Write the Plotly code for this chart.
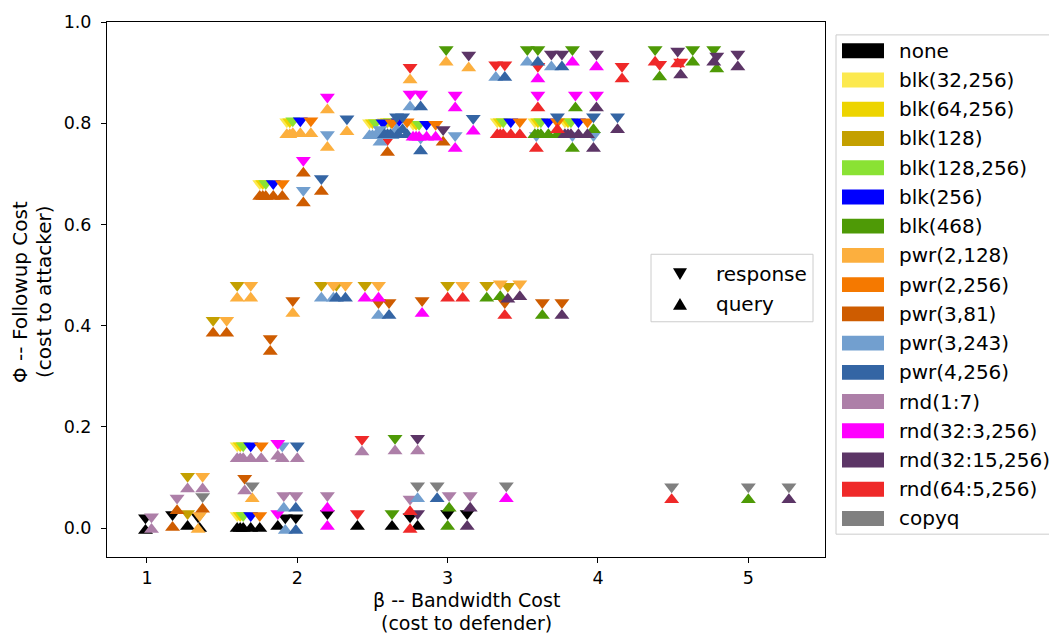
import plotly.graph_objects as go

# ---------------- schemes (legend order) and colours ----------------
SCHEMES = ["none", "blk(32,256)", "blk(64,256)", "blk(128)", "blk(128,256)", "blk(256)",
           "blk(468)", "pwr(2,128)", "pwr(2,256)", "pwr(3,81)", "pwr(3,243)", "pwr(4,256)",
           "rnd(1:7)", "rnd(32:3,256)", "rnd(32:15,256)", "rnd(64:5,256)", "copyq"]
COLORS = ["#000000", "#fce94f", "#edd400", "#c4a000", "#8ae234", "#0000ff",
          "#4e9a06", "#fcaf3e", "#f57900", "#ce5c00", "#729fcf", "#3465a4",
          "#ad7fa8", "#ff00ff", "#5c3566", "#ef2929", "#808080"]

# ---------------- data: (beta, phi, response scheme) grouped by query scheme ----------------
Q_PWR2_128 = [(1.93, 0.790, "blk(32,256)"), (1.95, 0.790, "blk(64,256)"), (1.97, 0.792, "blk(128,256)"),
              (2.02, 0.792, "blk(256)"), (2.09, 0.792, "pwr(2,256)"), (2.20, 0.765, "pwr(3,243)"),
              (2.33, 0.796, "pwr(4,256)"), (2.20, 0.839, "rnd(32:3,256)"), (2.75, 0.898, "rnd(64:5,256)"),
              (2.99, 0.933, "blk(468)"), (3.14, 0.922, "rnd(32:15,256)"), (1.60, 0.467, "blk(128)"),
              (1.69, 0.467, "pwr(2,128)"), (1.97, 0.437, "pwr(3,81)"), (1.70, 0.071, "copyq"),
              (1.34, 0.010, "none")]
Q_PWR3_81 = [(1.75, 0.668, "blk(32,256)"), (1.77, 0.668, "blk(64,256)"), (1.79, 0.668, "blk(128,256)"),
             (1.84, 0.668, "blk(256)"), (1.90, 0.668, "pwr(2,256)"), (2.04, 0.714, "rnd(32:3,256)"),
             (2.04, 0.655, "pwr(3,243)"), (2.16, 0.678, "pwr(4,256)"), (2.60, 0.755, "rnd(64:5,256)"),
             (2.97, 0.775, "rnd(32:15,256)"), (1.44, 0.398, "blk(128)"), (1.53, 0.398, "pwr(2,128)"),
             (1.82, 0.362, "pwr(3,81)"), (1.20, 0.047, "rnd(1:7)"), (1.37, 0.050, "copyq"),
             (1.17, 0.014, "none")]
Q_PWR3_243 = [(2.48, 0.788, "blk(32,256)"), (2.50, 0.788, "blk(64,256)"), (2.52, 0.788, "blk(128,256)"),
              (2.57, 0.788, "blk(256)"), (2.63, 0.788, "pwr(2,256)"), (2.55, 0.775, "pwr(3,243)"),
              (2.66, 0.800, "pwr(4,256)"), (2.75, 0.845, "rnd(32:3,256)"), (3.32, 0.903, "rnd(64:5,256)"),
              (3.53, 0.933, "blk(468)"), (3.69, 0.924, "rnd(32:15,256)"), (2.16, 0.467, "blk(128)"),
              (2.24, 0.467, "pwr(2,128)"), (2.54, 0.433, "pwr(3,81)"), (1.91, 0.052, "rnd(1:7)"),
              (2.80, 0.071, "copyq"), (1.92, 0.008, "none")]
Q_PWR4_256 = [(2.58, 0.790, "blk(32,256)"), (2.60, 0.790, "blk(64,256)"), (2.62, 0.790, "blk(128,256)"),
              (2.67, 0.790, "blk(256)"), (2.73, 0.790, "pwr(2,256)"), (2.82, 0.758, "pwr(3,243)"),
              (2.70, 0.800, "pwr(4,256)"), (2.82, 0.845, "rnd(32:3,256)"), (3.38, 0.903, "rnd(64:5,256)"),
              (3.60, 0.933, "blk(468)"), (3.76, 0.924, "rnd(32:15,256)"), (2.26, 0.467, "blk(128)"),
              (2.32, 0.467, "pwr(2,128)"), (2.61, 0.433, "pwr(3,81)"), (1.99, 0.052, "rnd(1:7)"),
              (2.93, 0.071, "copyq"), (1.99, 0.008, "none")]
Q_RND32_3 = [(2.77, 0.785, "blk(32,256)"), (2.79, 0.785, "blk(64,256)"), (2.81, 0.785, "blk(128,256)"),
             (2.86, 0.785, "blk(256)"), (2.92, 0.785, "pwr(2,256)"), (3.05, 0.763, "pwr(3,243)"),
             (3.17, 0.797, "pwr(4,256)"), (3.05, 0.843, "rnd(32:3,256)"), (3.60, 0.900, "rnd(64:5,256)"),
             (3.83, 0.933, "blk(468)"), (3.99, 0.924, "rnd(32:15,256)"), (2.45, 0.467, "blk(128)"),
             (2.54, 0.467, "pwr(2,128)"), (2.83, 0.437, "pwr(3,81)"), (2.20, 0.052, "rnd(1:7)"),
             (3.39, 0.071, "copyq"), (2.20, 0.016, "none")]
Q_RND64_5 = [(3.33, 0.790, "blk(32,256)"), (3.35, 0.790, "blk(64,256)"), (3.37, 0.790, "blk(128,256)"),
             (3.42, 0.790, "blk(256)"), (3.48, 0.790, "pwr(2,256)"), (3.59, 0.763, "pwr(3,243)"),
             (3.73, 0.800, "pwr(4,256)"), (3.60, 0.843, "rnd(32:3,256)"), (4.16, 0.900, "rnd(64:5,256)"),
             (4.38, 0.933, "blk(468)"), (4.53, 0.930, "rnd(32:15,256)"), (3.00, 0.467, "blk(128)"),
             (3.10, 0.467, "pwr(2,128)"), (3.38, 0.433, "pwr(3,81)"), (2.75, 0.045, "rnd(1:7)"),
             (4.49, 0.069, "copyq"), (2.75, 0.010, "none")]
Q_BLK468 = [(3.58, 0.790, "blk(32,256)"), (3.60, 0.790, "blk(64,256)"), (3.62, 0.790, "blk(128,256)"),
            (3.67, 0.790, "blk(256)"), (3.73, 0.790, "pwr(2,256)"), (3.83, 0.763, "pwr(3,243)"),
            (3.97, 0.800, "pwr(4,256)"), (3.85, 0.843, "rnd(32:3,256)"), (4.41, 0.904, "rnd(64:5,256)"),
            (4.63, 0.933, "blk(468)"), (4.79, 0.920, "rnd(32:15,256)"), (3.26, 0.467, "blk(128)"),
            (3.35, 0.470, "pwr(2,128)"), (3.63, 0.433, "pwr(3,81)"), (3.01, 0.052, "rnd(1:7)"),
            (5.00, 0.069, "copyq"), (3.00, 0.016, "none")]
Q_RND32_15 = [(3.78, 0.790, "blk(32,256)"), (3.80, 0.790, "blk(64,256)"), (3.82, 0.790, "blk(128,256)"),
              (3.87, 0.790, "blk(256)"), (3.93, 0.790, "pwr(2,256)"), (3.97, 0.763, "pwr(3,243)"),
              (4.13, 0.800, "pwr(4,256)"), (3.99, 0.843, "rnd(32:3,256)"), (4.55, 0.908, "rnd(64:5,256)"),
              (4.77, 0.933, "blk(468)"), (4.93, 0.924, "rnd(32:15,256)"), (3.40, 0.465, "blk(128)"),
              (3.48, 0.470, "pwr(2,128)"), (3.76, 0.433, "pwr(3,81)"), (3.15, 0.052, "rnd(1:7)"),
              (5.27, 0.069, "copyq"), (3.13, 0.016, "none")]
Q_RND1_7 = [(1.60, 0.150, "blk(32,256)"), (1.62, 0.150, "blk(64,256)"), (1.64, 0.150, "blk(128,256)"),
            (1.69, 0.150, "blk(256)"), (1.76, 0.150, "pwr(2,256)"), (1.90, 0.150, "pwr(3,243)"),
            (2.00, 0.150, "pwr(4,256)"), (1.87, 0.155, "rnd(32:3,256)"), (2.43, 0.163, "rnd(64:5,256)"),
            (2.65, 0.165, "blk(468)"), (2.80, 0.165, "rnd(32:15,256)"), (1.27, 0.090, "blk(128)"),
            (1.37, 0.090, "pwr(2,128)"), (1.65, 0.086, "pwr(3,81)"), (1.03, 0.010, "rnd(1:7)")]
Q_NONE = [(1.60, 0.012, "blk(32,256)"), (1.62, 0.012, "blk(64,256)"), (1.64, 0.012, "blk(128,256)"),
          (1.69, 0.012, "blk(256)"), (1.75, 0.012, "pwr(2,256)"), (1.87, 0.016, "rnd(32:3,256)"),
          (2.40, 0.016, "rnd(64:5,256)"), (2.63, 0.016, "blk(468)"), (2.80, 0.016, "rnd(32:15,256)"),
          (1.27, 0.016, "blk(128)"), (1.35, 0.012, "pwr(2,128)"), (0.99, 0.008, "none")]

QUERY_GROUPS = [("none", Q_NONE), ("rnd(1:7)", Q_RND1_7), ("pwr(2,128)", Q_PWR2_128),
                ("pwr(3,81)", Q_PWR3_81), ("pwr(3,243)", Q_PWR3_243), ("pwr(4,256)", Q_PWR4_256),
                ("rnd(32:3,256)", Q_RND32_3), ("rnd(64:5,256)", Q_RND64_5), ("blk(468)", Q_BLK468),
                ("rnd(32:15,256)", Q_RND32_15)]

X_TICKS = [1, 2, 3, 4, 5]
Y_TICKS = [0.0, 0.2, 0.4, 0.6, 0.8, 1.0]

# ---------------- geometry ----------------
W, H = 1049, 636
L, R, T, B = 107, 825, 18, 557          # plot frame in pixels
XR = [0.734, 5.51]
YR = [-0.057, 1.0]
MSIZE = 13                              # triangle marker size (px)
ppu_y = (B - T) / (YR[1] - YR[0])
DY = (MSIZE / 2) / ppu_y                # shift so that triangle tips meet at the data point


def px(x):
    return (x - L) / (R - L)


def py(y):
    return (B - y) / (B - T)


color_of = dict(zip(SCHEMES, COLORS))

# collect response / query points per scheme
resp_pts = {s: ([], []) for s in SCHEMES}
query_pts = {s: ([], []) for s in SCHEMES}
for qname, pts in QUERY_GROUPS:
    for b, p, rname in pts:
        resp_pts[rname][0].append(b)
        resp_pts[rname][1].append(p)
        query_pts[qname][0].append(b)
        query_pts[qname][1].append(p)

fig = go.Figure()
for s in SCHEMES:
    xs, ys = resp_pts[s]
    if xs:
        fig.add_trace(go.Scatter(x=xs, y=[v + DY for v in ys], mode="markers", name=s + " response",
                                 marker=dict(symbol="triangle-down", size=MSIZE, color=color_of[s],
                                             line=dict(width=0)),
                                 showlegend=False, hoverinfo="skip"))
for s in SCHEMES:
    xs, ys = query_pts[s]
    if xs:
        fig.add_trace(go.Scatter(x=xs, y=[v - DY for v in ys], mode="markers", name=s + " query",
                                 marker=dict(symbol="triangle-up", size=MSIZE, color=color_of[s],
                                             line=dict(width=0)),
                                 showlegend=False, hoverinfo="skip"))

FONT = "DejaVu Sans"
FS = 20       # legend and axis titles
FS_XT = 19    # x-axis title (two lines must fit above the bottom edge)
FS_TICK = 17.5
shapes = []
annotations = []

# ---- colour legend (outside right) ----
shapes.append(dict(type="rect", xref="paper", yref="paper", x0=px(836), x1=px(1060), y0=py(534), y1=py(31),
                   line=dict(color="#cccccc", width=1), fillcolor="white", layer="above"))
row0, pitch = 47, 29.45
for i, (s, c) in enumerate(zip(SCHEMES, COLORS)):
    yc = row0 + i * pitch
    shapes.append(dict(type="rect", xref="paper", yref="paper", x0=px(842), x1=px(884),
                       y0=py(yc + 7.5), y1=py(yc - 7.5), line=dict(width=0), fillcolor=c, layer="above"))
    annotations.append(dict(text=s, xref="paper", yref="paper", x=px(897), y=py(yc), xanchor="left",
                            yanchor="middle", showarrow=False, font=dict(family=FONT, size=FS, color="black")))

# ---- response / query legend (inside) ----
shapes.append(dict(type="rect", xref="paper", yref="paper", x0=px(651), x1=px(813), y0=py(320), y1=py(252),
                   line=dict(color="#cccccc", width=1), fillcolor="white", layer="above"))
for label, yc, down in [("response", 272, True), ("query", 302, False)]:
    hx, hh = 7, 6
    if down:
        path = "M%f,%f L%f,%f L%f,%f Z" % (px(680 - hx), py(yc - hh), px(680 + hx), py(yc - hh), px(680), py(yc + hh))
    else:
        path = "M%f,%f L%f,%f L%f,%f Z" % (px(680 - hx), py(yc + hh), px(680 + hx), py(yc + hh), px(680), py(yc - hh))
    shapes.append(dict(type="path", xref="paper", yref="paper", path=path, fillcolor="black",
                       line=dict(width=0), layer="above"))
    annotations.append(dict(text=label, xref="paper", yref="paper", x=px(714), y=py(yc), xanchor="left",
                            yanchor="middle", showarrow=False, font=dict(family=FONT, size=FS, color="black")))

# ---- axis titles (two lines each) ----
for txt, yc in [("β -- Bandwidth Cost", 600), ("(cost to defender)", 623)]:
    annotations.append(dict(text=txt, xref="paper", yref="paper", x=px(466), y=py(yc), xanchor="center",
                            yanchor="middle", showarrow=False, font=dict(family=FONT, size=FS_XT, color="black")))
for txt, xc in [("Φ -- Followup Cost", 20), ("(cost to attacker)", 44)]:
    annotations.append(dict(text=txt, xref="paper", yref="paper", x=px(xc), y=py(290), xanchor="center",
                            yanchor="middle", textangle=-90, showarrow=False,
                            font=dict(family=FONT, size=FS, color="black")))

fig.update_layout(
    width=W, height=H,
    margin=dict(l=L, r=W - R, t=T, b=H - B, pad=0),
    plot_bgcolor="white", paper_bgcolor="white",
    showlegend=False,
    shapes=shapes, annotations=annotations,
    font=dict(family=FONT, size=FS_TICK, color="black"),
)
fig.update_xaxes(range=XR, tickvals=X_TICKS, ticktext=[str(v) for v in X_TICKS], ticks="outside", ticklen=5,
                 tickcolor="black", showline=True, linecolor="black", linewidth=1, mirror=True,
                 showgrid=False, zeroline=False, tickfont=dict(family=FONT, size=FS_TICK))
fig.update_yaxes(range=YR, tickvals=Y_TICKS, ticktext=["%.1f" % v for v in Y_TICKS], ticks="outside", ticklen=5,
                 tickcolor="black", showline=True, linecolor="black", linewidth=1, mirror=True,
                 showgrid=False, zeroline=False, tickfont=dict(family=FONT, size=FS_TICK),
                 ticklabelstandoff=6)

fig.write_html("out.html")
